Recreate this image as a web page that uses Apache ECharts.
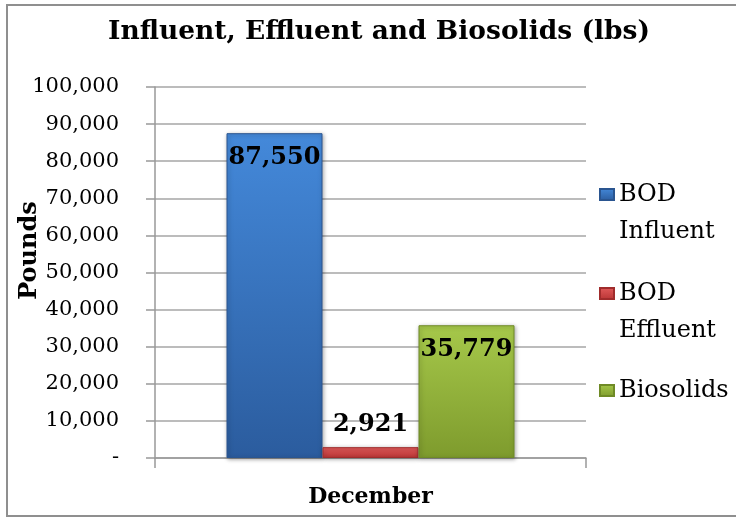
<!DOCTYPE html>
<html>
<head>
<meta charset="utf-8">
<script src="https://cdn.jsdelivr.net/npm/echarts@6/dist/echarts.min.js"></script>
<style>
html,body{margin:0;padding:0;background:#fff;}
#chart{width:736px;height:518px;}
</style>
</head>
<body>
<div id="chart"></div>
<script>
const categories = ['December'];
const seriesNames = ['BOD Influent', 'BOD Effluent', 'Biosolids'];
const bodInfluent = [87550];
const bodEffluent = [2921];
const biosolids = [35779];
const yTickLabels = ['-', '10,000', '20,000', '30,000', '40,000', '50,000', '60,000', '70,000', '80,000', '90,000', '100,000'];

const FONT = 'DejaVu Serif';
function grad(top, bottom) {
  return new echarts.graphic.LinearGradient(0, 0, 0, 1, [
    {offset: 0, color: top}, {offset: 1, color: bottom}
  ]);
}
const styles = [
  {color: grad('#4489da', '#2b5c9e'), border: '#2a5590'},
  {color: grad('#e25b5b', '#b83434'), border: '#a02c2c'},
  {color: grad('#a6c84a', '#7e9b2d'), border: '#6f8a26'}
];
const values = [bodInfluent, bodEffluent, biosolids];
const labelPos = ['insideTop', 'top', 'insideTop'];
const labelDist = [13, 10, 13];

const chart = echarts.init(document.getElementById('chart'));
const series = seriesNames.map((name, i) => ({
  name: name,
  type: 'bar',
  data: values[i],
  barWidth: 96,
  barGap: '0%',
  itemStyle: {
    color: styles[i].color,
    borderColor: styles[i].border,
    borderWidth: 1,
    shadowBlur: 4,
    shadowColor: 'rgba(0,0,0,0.35)',
    shadowOffsetX: 1,
    shadowOffsetY: 1
  },
  label: {
    show: true,
    position: labelPos[i],
    distance: labelDist[i],
    color: '#000',
    fontFamily: FONT,
    fontWeight: 'bold',
    fontSize: 24,
    formatter: p => p.value.toLocaleString('en-US')
  }
}));

const legendTops = [139, 238, 372];
const legends = seriesNames.map((name, i) => {
  const twoLine = name.indexOf(' ') >= 0;
  return {
    data: [name],
    orient: 'vertical',
    left: 599,
    top: legendTops[i],
    padding: 0,
    itemWidth: 14,
    itemHeight: 11,
    icon: 'rect',
    formatter: n => twoLine ? '\n' + n.replace(' ', '\n') : n,
    textStyle: {
      fontFamily: FONT,
      fontSize: 24,
      color: '#000',
      lineHeight: 37
    }
  };
});

chart.setOption({
  backgroundColor: '#fff',
  animation: false,
  title: {
    text: 'Influent, Effluent and Biosolids (lbs)',
    left: 374,
    textAlign: 'center',
    top: 14,
    textStyle: {fontFamily: FONT, fontWeight: 'bold', fontSize: 26.5, color: '#000'}
  },
  legend: legends,
  grid: {left: 155, right: 150, top: 87, bottom: 60, containLabel: false, outerBoundsMode: 'none'},
  xAxis: {
    type: 'category',
    data: categories,
    axisLine: {lineStyle: {color: '#999', width: 1.5}},
    axisTick: {show: true, length: 10, lineStyle: {color: '#999', width: 1.5}},
    axisLabel: {
      margin: 28,
      color: '#000',
      fontFamily: FONT,
      fontWeight: 'bold',
      fontSize: 22
    }
  },
  yAxis: {
    type: 'value',
    min: 0,
    max: 100000,
    interval: 10000,
    name: 'Pounds',
    nameLocation: 'middle',
    nameGap: 113,
    nameRotate: 90,
    nameMoveOverlap: false,
    nameTextStyle: {fontFamily: FONT, fontWeight: 'bold', fontSize: 24, color: '#000', padding: [0, 0, 0, 44]},
    axisLine: {show: true, lineStyle: {color: '#999', width: 1.5}},
    axisTick: {show: true, length: 9, lineStyle: {color: '#999', width: 1.5}},
    splitLine: {show: true, lineStyle: {color: '#a6a6a6', width: 1.5}},
    axisLabel: {
      margin: 36,
      color: '#000',
      fontFamily: FONT,
      fontSize: 21,
      formatter: v => yTickLabels[Math.round(v / 10000)]
    }
  },
  graphic: [{
    type: 'rect',
    shape: {x: 7, y: 5, width: 740, height: 511},
    style: {fill: 'none', stroke: '#8f8f8f', lineWidth: 2},
    silent: true,
    z: -1
  }],
  series: series
});
</script>
</body>
</html>
